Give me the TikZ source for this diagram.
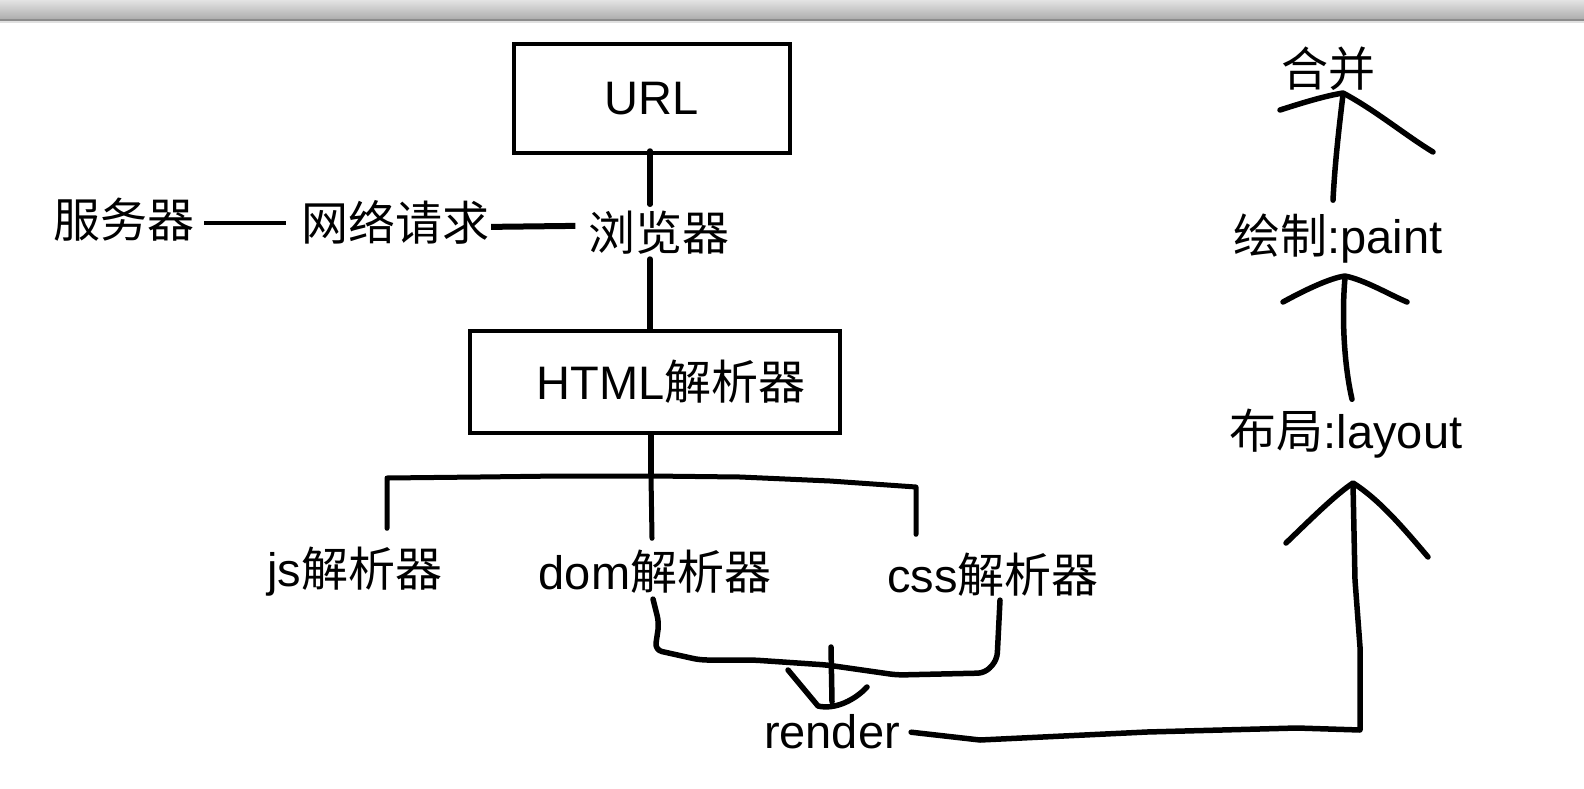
\documentclass[tikz,border=0pt]{standalone}
\usepackage{fontspec}
\setmainfont{Liberation Sans}
\newfontfamily\cjk{Noto Sans CJK SC}
\usetikzlibrary{calc}
\begin{document}
\begin{tikzpicture}[x=1pt,y=-1pt,
  lbl/.style={font=\fontsize{47}{56}\selectfont, inner sep=0pt, anchor=base},
  boxnode/.style={draw, line width=4pt, font=\fontsize{47}{56}\selectfont, inner sep=0pt},
  hand/.style={line width=5.5pt, line cap=round, line join=round}]
\useasboundingbox (0,0) rectangle (1584,789);
\fill[white] (0,0) rectangle (1584,789);
\shade[top color=black!11, bottom color=black!33] (0,0) rectangle (1584,20);
\fill[black!45] (0,19) rectangle (1584,21);
\fill[black!12] (0,21) rectangle (1584,23);

% boxes
\node[boxnode, minimum width=276pt, minimum height=109pt] (url) at (652,98.5) {URL};
\node[boxnode, minimum width=370pt, minimum height=102pt] (html) at (655,382) {\hspace*{32pt}HTML{\cjk 解析器}};

% labels
\node[lbl] (server) at (123.5,237) {\cjk 服务器};
\node[lbl] (net) at (395,240) {\cjk 网络请求};
\node[lbl] (browser) at (659,250) {\cjk 浏览器};
\node[lbl] (js) at (355,586) {js{\cjk 解析器}};
\node[lbl] (dom) at (655,589) {dom{\cjk 解析器}};
\node[lbl] (css) at (993,592) {css{\cjk 解析器}};
\node[lbl] (render) at (832,748) {render};
\node[lbl] (layout) at (1346,448) {{\cjk 布局}:layout};
\node[lbl] (paint) at (1338,253) {{\cjk 绘制}:paint};
\node[lbl] (merge) at (1328,87) {\cjk 合并};

% top chain
\draw[hand] ($(url.south)+(-2,-4)$) -- ($(browser.north)+(-9,-6)$);
\draw[hand] ($(browser.south)+(-9,5)$) -- ($(html.north)+(-5,0)$);
\draw[line width=3.5pt] ($(server.east)+(10,4)$) coordinate (s1) -- ($(s1 -| net.west)+(-15,0)$);
\draw[line width=6pt] ($(net.east)+(2,5)$) coordinate (s2) -- ($(s2 -| browser.west)+(-13,-1)$);

% html to parsers
\coordinate (jct) at (651,476);
\draw[hand] ($(html.south)+(-4,0)$) -- (jct);
\draw[line width=5pt, line join=round, line cap=round]
  ($(js.north)+(32,-18)$) -- (387,478) -- (480,477) -- (560,476) -- (jct)
  -- (740,477) -- (830,481) -- (916,487) -- ($(css.north)+(-77,-18)$);
\draw[line width=5pt, line cap=round] (jct) -- ($(dom.north)+(-3,-11)$);

% bracket to render
\draw[hand, rounded corners=7pt] ($(dom.south)+(-2,6)$) -- (659,623) -- (655,650)
  -- (700,660) -- (753,660) -- (827,665) -- (897,675) -- (985,673) -- (997,660)
  -- ($(css.south)+(7,4)$);
\draw[hand] (831,647) -- ($(render.north)+(0,-12)$);
\draw[hand] (788,670) -- (818,706) .. controls (835,710) and (855,700) .. (867,687);

% render to layout
\draw[hand] ($(render.east)+(11,1)$) -- (980,740) -- (1147,732) -- (1297,728)
  -- (1360,730) -- (1360,647) -- (1355,580) -- ($(layout.south)+(7,26)$);
\draw[hand] (1286,543) .. controls (1310,520) and (1335,495) .. (1353,483)
  .. controls (1380,500) and (1405,530) .. (1428,557);

% layout to paint
\draw[hand] ($(layout.north)+(6,-9)$) .. controls (1343,360) and (1342,310) .. ($(paint.south)+(7,15)$);
\draw[hand] (1283,302) .. controls (1305,290) and (1330,278) .. (1345,276)
  .. controls (1365,280) and (1390,295) .. (1407,302);

% paint to merge
\draw[hand] ($(paint.north)+(-5,-13)$) .. controls (1335,160) and (1340,120) .. ($(merge.south)+(15,3)$);
\draw[hand] (1280,110) .. controls (1305,102) and (1325,96) .. (1343,93)
  .. controls (1375,110) and (1405,135) .. (1433,152);
\end{tikzpicture}
\end{document}
